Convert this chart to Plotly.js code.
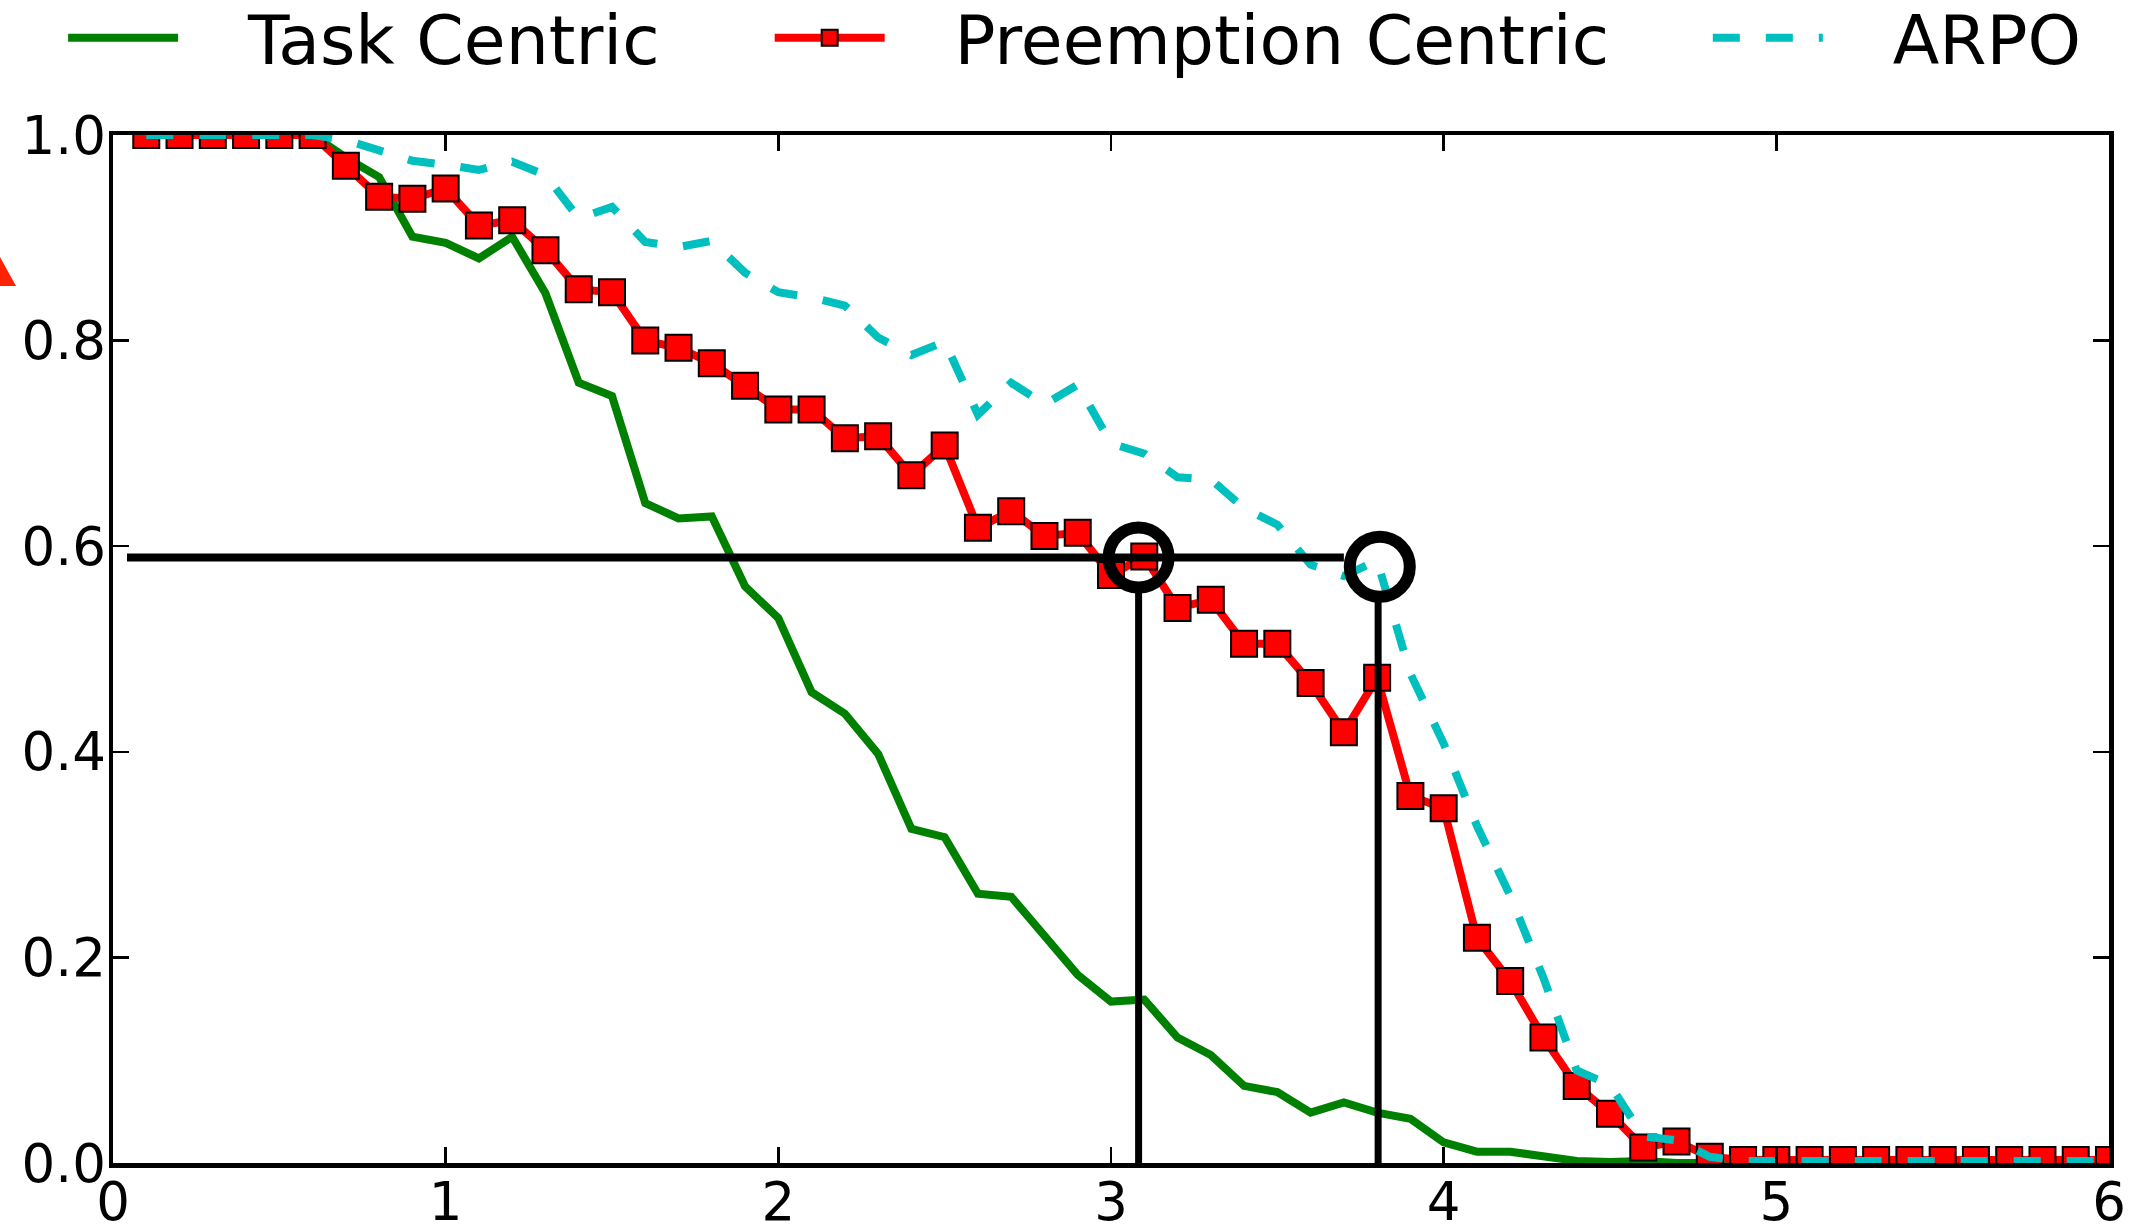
<!DOCTYPE html>
<html>
<head>
<meta charset="utf-8">
<script src="https://cdn.plot.ly/plotly-3.0.1.min.js"></script>
<style>
  html, body { margin: 0; padding: 0; background: #ffffff; }
  #chart { width: 2141px; height: 1226px; }
</style>
</head>
<body>
<div id="chart"></div>
<script>
// ---- data ----
var xValues = [0.1,0.2,0.3,0.4,0.5,0.6,0.7,0.8,0.9,1.0,
               1.1,1.2,1.3,1.4,1.5,1.6,1.7,1.8,1.9,2.0,
               2.1,2.2,2.3,2.4,2.5,2.6,2.7,2.8,2.9,3.0,
               3.1,3.2,3.3,3.4,3.5,3.6,3.7,3.8,3.9,4.0,
               4.1,4.2,4.3,4.4,4.5,4.6,4.7,4.8,4.9,5.0,
               5.1,5.2,5.3,5.4,5.5,5.6,5.7,5.8,5.9,6.0];

var taskCentric = [1.0,1.0,1.0,1.0,1.0,1.0,0.978,0.959,0.901,0.895,
                   0.880,0.901,0.846,0.759,0.746,0.642,0.627,0.629,0.561,0.530,
                   0.458,0.437,0.398,0.325,0.317,0.262,0.259,0.221,0.183,0.157,
                   0.159,0.122,0.105,0.075,0.069,0.049,0.059,0.049,0.043,0.020,
                   0.011,0.011,0.007,0.002,0.001,0.002,0.0,0.0,0.0,0.0,
                   0.0,0.0,0.0,0.0,0.0,0.0,0.0,0.0,0.0,0.0];

var preemptionCentric = [1.0,1.0,1.0,1.0,1.0,1.0,0.970,0.940,0.938,0.948,
                         0.912,0.917,0.888,0.850,0.847,0.800,0.793,0.778,0.756,0.733,
                         0.733,0.705,0.707,0.669,0.698,0.618,0.634,0.610,0.613,0.572,
                         0.590,0.540,0.548,0.505,0.505,0.467,0.419,0.472,0.357,0.345,
                         0.219,0.177,0.122,0.075,0.048,0.015,0.021,0.006,0.003,0.003,
                         0.003,0.003,0.003,0.003,0.003,0.003,0.003,0.003,0.003,0.003];

var arpo = [1.0,1.0,1.0,1.0,1.0,1.0,0.995,0.985,0.975,0.971,
            0.966,0.974,0.961,0.919,0.930,0.896,0.891,0.897,0.866,0.847,
            0.842,0.834,0.803,0.786,0.799,0.728,0.759,0.738,0.757,0.700,
            0.690,0.667,0.665,0.637,0.621,0.582,0.571,0.586,0.476,0.408,
            0.328,0.260,0.180,0.090,0.076,0.026,0.022,0.006,0.002,0.002,
            0.002,0.002,0.002,0.002,0.002,0.002,0.002,0.002,0.002,0.002];

var seriesNames = ['Task Centric', 'Preemption Centric', 'ARPO'];

// reference guides (horizontal level, two drop lines, two highlighted points)
var levelLineX = [0.042, 3.70];
var levelLineY = [0.589, 0.589];
var dropLine1X = [3.083, 3.083];
var dropLine1Y = [0.0, 0.555];
var dropLine2X = [3.803, 3.803];
var dropLine2Y = [0.0, 0.546];
var circleX = [3.083, 3.808];
var circleY = [0.589, 0.580];

var xTickVals = [0, 1, 2, 3, 4, 5, 6];
var yTickVals = [0.0, 0.2, 0.4, 0.6, 0.8, 1.0];
var yTickText = ['0.0', '0.2', '0.4', '0.6', '0.8', '1.0'];

// ---- traces ----
var FONT = 'DejaVu Sans, Liberation Sans, sans-serif';
var PAD = '\u00A0\u00A0\u00A0';

var traces = [
  {
    x: xValues, y: taskCentric, name: PAD + seriesNames[0],
    type: 'scatter', mode: 'lines',
    line: { color: '#008000', width: 8 },
    legend: 'legend'
  },
  {
    x: xValues, y: preemptionCentric, name: PAD + seriesNames[1],
    type: 'scatter', mode: 'lines+markers',
    line: { color: '#ff0000', width: 8 },
    marker: { symbol: 'square', size: 26, color: '#ff0000',
              line: { color: '#000000', width: 2 } },
    legend: 'legend2'
  },
  {
    x: xValues, y: arpo, name: PAD + seriesNames[2],
    type: 'scatter', mode: 'lines',
    line: { color: '#00bfbf', width: 8, dash: '27px,26px' },
    legend: 'legend3'
  },
  {
    x: levelLineX, y: levelLineY, type: 'scatter', mode: 'lines',
    line: { color: '#000000', width: 8 }, showlegend: false, hoverinfo: 'skip'
  },
  {
    x: dropLine1X, y: dropLine1Y, type: 'scatter', mode: 'lines',
    line: { color: '#000000', width: 7 }, showlegend: false, hoverinfo: 'skip'
  },
  {
    x: dropLine2X, y: dropLine2Y, type: 'scatter', mode: 'lines',
    line: { color: '#000000', width: 7 }, showlegend: false, hoverinfo: 'skip'
  },
  {
    x: circleX, y: circleY, type: 'scatter', mode: 'markers',
    marker: { symbol: 'circle-open', size: 60, color: '#000000',
              line: { color: '#000000', width: 12 } },
    showlegend: false, hoverinfo: 'skip', cliponaxis: false
  }
];

var axisCommon = {
  showline: true, linecolor: '#000000', linewidth: 4.5,
  mirror: 'allticks', ticks: 'inside', ticklen: 16, tickwidth: 2.5,
  tickcolor: '#000000', showgrid: false, zeroline: false,
  tickfont: { family: FONT, size: 53, color: '#000000' }
};

var legendCommon = {
  orientation: 'h', xanchor: 'left', yanchor: 'top',
  bgcolor: 'rgba(0,0,0,0)', borderwidth: 0,
  font: { family: FONT, size: 68, color: '#000000' },
  itemwidth: 110, itemclick: false, itemdoubleclick: false
};

var layout = {
  width: 2141, height: 1226,
  margin: { l: 113, r: 32, t: 135, b: 63, pad: 0, autoexpand: false },
  paper_bgcolor: '#ffffff', plot_bgcolor: '#ffffff',
  font: { family: FONT, color: '#000000' },
  showlegend: true,
  xaxis: Object.assign({}, axisCommon, {
    range: [0, 6], tickvals: xTickVals, tickformat: 'd', ticklabelstandoff: -11
  }),
  yaxis: Object.assign({}, axisCommon, {
    range: [0, 1], tickvals: yTickVals, ticktext: yTickText, ticklabelstandoff: -8
  }),
  legend: Object.assign({}, legendCommon, { x: -0.025, y: 1.144 }),
  legend2: Object.assign({}, legendCommon, { x: 0.329, y: 1.144 }),
  legend3: Object.assign({}, legendCommon, { x: 0.799, y: 1.144 }),
  shapes: [
    {
      type: 'path', xref: 'paper', yref: 'paper',
      path: 'M -0.0716,0.8531 L -0.0486,0.8531 L -0.0716,0.9339 Z',
      fillcolor: '#ff2200', line: { width: 0 }
    }
  ]
};

Plotly.newPlot('chart', traces, layout, { staticPlot: true, displayModeBar: false });
</script>
</body>
</html>
